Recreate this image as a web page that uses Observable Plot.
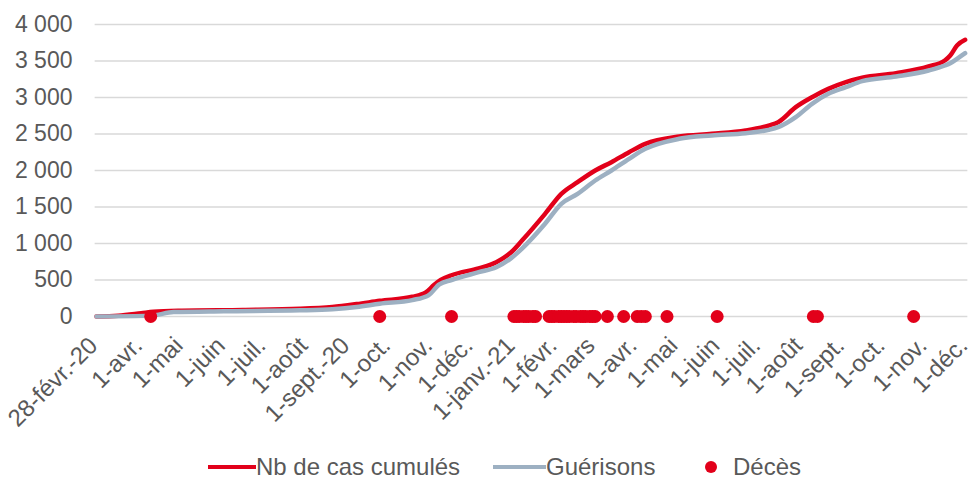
<!DOCTYPE html>
<html>
<head>
<meta charset="utf-8">
<script src="https://cdn.jsdelivr.net/npm/d3@7"></script>
<script src="https://cdn.jsdelivr.net/npm/@observablehq/plot@0.6"></script>
<style>
  html, body { margin: 0; padding: 0; background: #fff; }
  #wrap { position: relative; width: 972px; height: 479px; overflow: hidden; font-family: "Liberation Sans", Arial, sans-serif; color: #595959; }
  .leg { position: absolute; top: 456px; height: 22px; font-size: 24px; line-height: 22px; white-space: nowrap; display: flex; align-items: center; }
  .sw { display: inline-block; height: 4.5px; }
  .dt { display: inline-block; width: 12px; height: 12px; border-radius: 50%; margin-right: 16px; }
</style>
</head>
<body>
<div id="wrap"><div id="chart"></div>
  <div class="leg" style="left:208px"><span class="sw" style="width:48px;background:#e2001a"></span><span>Nb de cas cumulés</span></div>
  <div class="leg" style="left:493px"><span class="sw" style="width:53px;background:#9db0c2"></span><span>Guérisons</span></div>
  <div class="leg" style="left:705px"><span class="dt" style="background:#e2001a"></span><span>Décès</span></div>
</div>
<script>
// Nb de cas cumulés
const casesDates = ["2020-02-28","2020-03-15","2020-04-01","2020-04-10","2020-05-01","2020-06-15","2020-07-27","2020-08-20","2020-09-07","2020-09-24","2020-10-18","2020-10-28","2020-11-03","2020-11-08","2020-11-16","2020-12-06","2020-12-19","2020-12-30","2021-01-07","2021-01-24","2021-02-05","2021-02-17","2021-03-02","2021-03-14","2021-03-27","2021-04-08","2021-05-03","2021-05-27","2021-06-21","2021-07-08","2021-07-15","2021-07-28","2021-08-09","2021-08-21","2021-09-03","2021-09-15","2021-10-10","2021-11-03","2021-11-15","2021-11-19","2021-11-24","2021-11-30"];
const casesValues = [0,10,45,65,80,90,105,130,170,215,270,330,430,500,565,660,744,880,1040,1406,1680,1840,2000,2114,2251,2365,2466,2502,2548,2616,2662,2868,3004,3118,3210,3270,3333,3425,3507,3575,3712,3790];

// Guérisons
const recDates = ["2020-02-28","2020-04-08","2020-04-25","2020-06-01","2020-07-27","2020-08-20","2020-09-07","2020-09-24","2020-10-18","2020-10-30","2020-11-07","2020-11-16","2020-12-06","2020-12-19","2020-12-30","2021-01-07","2021-01-24","2021-02-05","2021-02-17","2021-03-02","2021-03-14","2021-03-27","2021-04-08","2021-05-03","2021-05-27","2021-06-21","2021-07-08","2021-07-15","2021-07-28","2021-08-09","2021-08-21","2021-09-03","2021-09-15","2021-10-10","2021-11-03","2021-11-15","2021-11-19","2021-11-24","2021-11-30"];
const recValues = [0,12,60,72,85,100,130,175,225,290,440,500,607,675,800,930,1270,1543,1680,1863,2000,2160,2297,2434,2480,2511,2557,2594,2731,2913,3050,3141,3224,3288,3370,3438,3470,3530,3607];

// Décès (dates)
const deathDates = ["2020-04-08","2020-09-24","2020-11-16","2021-01-01","2021-01-03","2021-01-05","2021-01-08","2021-01-10","2021-01-12","2021-01-15","2021-01-17","2021-01-27","2021-01-29","2021-01-31","2021-02-03","2021-02-05","2021-02-07","2021-02-09","2021-02-11","2021-02-14","2021-02-16","2021-02-19","2021-02-21","2021-02-23","2021-02-26","2021-02-28","2021-03-02","2021-03-11","2021-03-23","2021-04-02","2021-04-05","2021-04-08","2021-04-24","2021-05-31","2021-08-10","2021-08-13","2021-10-23"];

// Axis ticks
const xTickDates = ["2020-02-28","2020-04-01","2020-05-01","2020-06-01","2020-07-01","2020-08-01","2020-09-01","2020-10-01","2020-11-01","2020-12-01","2021-01-01","2021-02-01","2021-03-01","2021-04-01","2021-05-01","2021-06-01","2021-07-01","2021-08-01","2021-09-01","2021-10-01","2021-11-01","2021-12-01"];
const xTickLabels = ["28-févr.-20","1-avr.","1-mai","1-juin","1-juil.","1-août","1-sept.-20","1-oct.","1-nov.","1-déc.","1-janv.-21","1-févr.","1-mars","1-avr.","1-mai","1-juin","1-juil.","1-août","1-sept.","1-oct.","1-nov.","1-déc."];
const yTicks = [0,500,1000,1500,2000,2500,3000,3500,4000];

const parse = d3.utcParse("%Y-%m-%d");
const cases = casesDates.map((d, i) => ({date: parse(d), value: casesValues[i]}));
const rec = recDates.map((d, i) => ({date: parse(d), value: recValues[i]}));
const deaths = deathDates.map(d => ({date: parse(d), value: 0}));
const xTicks = xTickDates.map(parse);
const labelMap = new Map(xTicks.map((d, i) => [+d, xTickLabels[i]]));
const fmtY = d => String(d).replace(/\B(?=(\d{3})+(?!\d))/g, "\u00a0");

const chart = Plot.plot({
  width: 972,
  height: 440,
  marginLeft: 96,
  marginRight: 6,
  marginTop: 24,
  marginBottom: 124,
  style: {fontFamily: "'Liberation Sans', Arial, sans-serif", fontSize: "23px", color: "#595959", background: "#fff"},
  x: {type: "utc", domain: [parse("2020-02-28"), parse("2021-12-01")]},
  y: {domain: [0, 4000]},
  marks: [
    Plot.ruleY(yTicks, {x1: parse("2020-02-27"), x2: parse("2021-12-02"), stroke: "#d9d9d9", strokeWidth: 1.6}),
    Plot.axisY({ticks: yTicks, tickSize: 0, tickPadding: 24, tickFormat: fmtY, fontSize: 23, fill: "#595959", label: null}),
    Plot.axisX({ticks: xTicks, tickSize: 0, tickPadding: 25, tickRotate: -45, dx: -3, tickFormat: d => labelMap.get(+d), fontSize: 24, fill: "#595959", label: null}),
    Plot.line(cases, {x: "date", y: "value", stroke: "#e2001a", strokeWidth: 4.5, curve: "monotone-x"}),
    Plot.line(rec, {x: "date", y: "value", stroke: "#9db0c2", strokeWidth: 4.5, curve: "monotone-x"}),
    Plot.dot(deaths, {x: "date", y: "value", r: 6.5, fill: "#e2001a", stroke: "none"})
  ]
});
document.getElementById("chart").appendChild(chart);
</script>
</body>
</html>
